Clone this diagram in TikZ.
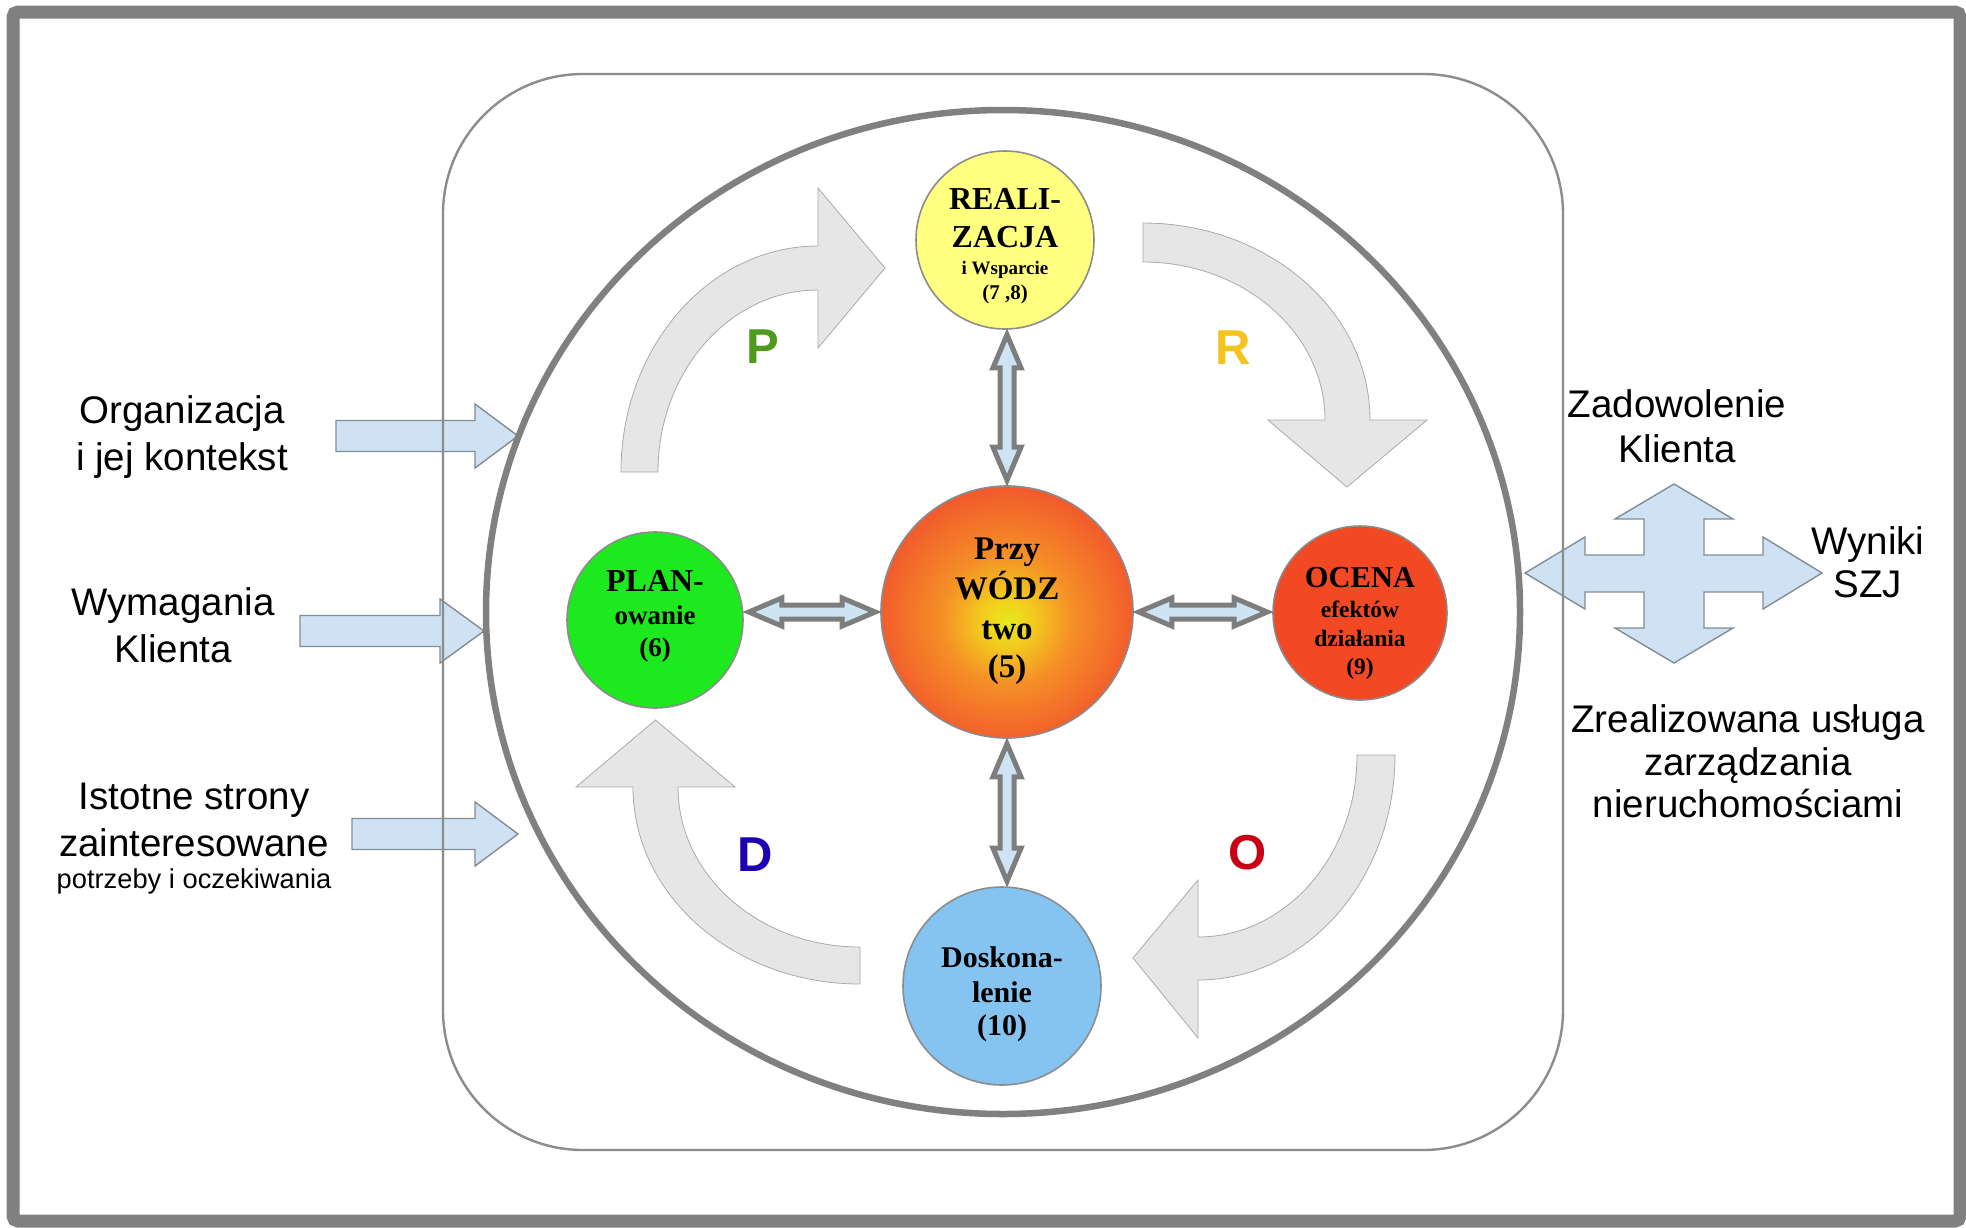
\documentclass[tikz,border=0pt]{standalone}
\usepackage{fontspec}
\setmainfont{Liberation Serif}
\newfontfamily\arial{Liberation Sans}
\usetikzlibrary{calc}
\definecolor{framegray}{RGB}{128,128,128}
\definecolor{ringgray}{RGB}{128,128,128}
\definecolor{rectgray}{RGB}{140,140,140}
\definecolor{cycfill}{RGB}{230,230,230}
\definecolor{cycdraw}{RGB}{170,170,170}
\definecolor{arrowblue}{RGB}{207,226,243}
\definecolor{inarrowdraw}{RGB}{130,140,150}
\definecolor{dblblue}{RGB}{205,228,244}
\definecolor{dblgray}{RGB}{125,125,125}
\definecolor{ballgray}{RGB}{140,140,140}
\definecolor{ycol}{RGB}{255,255,128}
\definecolor{gcol}{RGB}{30,232,30}
\definecolor{rcol}{RGB}{242,72,36}
\definecolor{bcol}{RGB}{133,196,240}
\definecolor{Pcol}{RGB}{78,154,30}
\definecolor{Rcol}{RGB}{245,195,30}
\definecolor{Ocol}{RGB}{200,0,22}
\definecolor{Dcol}{RGB}{30,0,180}
\pgfdeclareradialshading{orb}{\pgfpoint{0bp}{-2bp}}{rgb(0bp)=(0.90,0.92,0.10); rgb(5bp)=(0.95,0.80,0.12); rgb(13bp)=(0.96,0.56,0.15); rgb(24bp)=(0.95,0.38,0.17); rgb(34bp)=(0.94,0.22,0.20); rgb(50bp)=(0.94,0.22,0.20)}
\newcommand{\vdblarrow}[2]{\draw[dbl] let \p1=(#1.south), \p2=(#2.north), \p3=(cen.center) in
  (\x3,\y1-5pt) -- (\x3+14pt,\y1-38pt) -- (\x3+7pt,\y1-38pt) -- (\x3+7pt,\y2+38pt) -- (\x3+14pt,\y2+38pt) -- (\x3,\y2+5pt)
  -- (\x3-14pt,\y2+38pt) -- (\x3-7pt,\y2+38pt) -- (\x3-7pt,\y1-38pt) -- (\x3-14pt,\y1-38pt) -- cycle;}
\newcommand{\hdblarrow}[2]{\draw[dbl] let \p1=(#1.east), \p2=(#2.west), \p3=(cen.center) in
  (\x1+5pt,\y3) -- (\x1+38pt,\y3+14pt) -- (\x1+38pt,\y3+7pt) -- (\x2-38pt,\y3+7pt) -- (\x2-38pt,\y3+14pt) -- (\x2-5pt,\y3)
  -- (\x2-38pt,\y3-14pt) -- (\x2-38pt,\y3-7pt) -- (\x1+38pt,\y3-7pt) -- (\x1+38pt,\y3-14pt) -- cycle;}
\begin{document}
\begin{tikzpicture}[x=1pt,y=-1pt,
  ball/.style={circle, draw=ballgray, line width=1.6pt, inner sep=0pt},
  balltext/.style={align=center, inner sep=0pt},
  lbl/.style={align=center, inner sep=0pt, font=\arial\fontsize{38.5}{47}\selectfont},
  cyc/.style={fill=cycfill, draw=cycdraw, line width=0.8pt},
  letter/.style={inner sep=0pt, font=\arial\bfseries\fontsize{49}{49}\selectfont},
  inarrow/.style={fill=arrowblue, draw=inarrowdraw, line width=1.4pt, line join=miter},
  dbl/.style={fill=dblblue, draw=dblgray, line width=5pt, line join=miter}]
\useasboundingbox (0,0) rectangle (1966,1227);
\fill[white] (0,0) rectangle (1966,1227);
\draw[line width=13pt, draw=framegray, rounded corners=5pt] (13,12) rectangle (1960,1221);

% input arrows (left)
\draw[inarrow] (336,420.5) -- (475,420.5) -- (475,404) -- (518,436) -- (475,468) -- (475,451.5) -- (336,451.5) -- cycle;
\draw[inarrow] (300,615.5) -- (440,615.5) -- (440,599) -- (484,631) -- (440,663) -- (440,646.5) -- (300,646.5) -- cycle;
\draw[inarrow] (352,818.5) -- (475,818.5) -- (475,802) -- (518,834) -- (475,866) -- (475,849.5) -- (352,849.5) -- cycle;

% output cross arrow (right)
\draw[inarrow] (1674,484) -- (1733,519) -- (1704,519) -- (1704,555) -- (1763,555) -- (1763,537) -- (1822,573)
  -- (1763,609) -- (1763,592) -- (1704,592) -- (1704,628) -- (1733,628) -- (1674,663) -- (1615,628)
  -- (1644,628) -- (1644,592) -- (1585,592) -- (1585,609) -- (1525,573) -- (1585,537) -- (1585,555)
  -- (1644,555) -- (1644,519) -- (1615,519) -- cycle;

% labels
\node[lbl] (org) at (182,437) {Organizacja\\i jej kontekst};
\node[lbl] (wym) at (173,625.5) {Wymagania\\Klienta};
\node[lbl] (ist) at (194,838.5) {Istotne strony\\zainteresowane\\[-15pt]\fontsize{27.3}{47}\selectfont potrzeby i oczekiwania};
\node[lbl] (zad) at (1677,426.5) {Zadowolenie\\[-2pt]Klienta};
\node[lbl] (wyn) at (1868,562.5) {Wyniki\\[-4pt]SZJ};
\node[lbl] (zre) at (1748,761.5) {Zrealizowana usługa\\[-4.5pt]zarządzania\\[-4.5pt]nieruchomościami};

% system boundary
\draw[draw=rectgray, line width=2.4pt, rounded corners=140pt] (443,74) rectangle (1563,1150);
\draw[draw=ringgray, line width=6.5pt] (1003,612) ellipse [x radius=517, y radius=502];

% PDCA curved arrows
\draw[cyc] (621,472) arc[start angle=180, end angle=270, x radius=197, y radius=226] -- (818,188) -- (885,268) -- (818,348) -- (818,290) arc[start angle=270, end angle=180, x radius=160, y radius=182] -- cycle;
\draw[cyc] (1143,223) arc[start angle=270, end angle=360, x radius=227, y radius=197] -- (1427,420) -- (1347,487) -- (1268,420) -- (1325,420) arc[start angle=360, end angle=270, x radius=182, y radius=158] -- cycle;
\draw[cyc] (1395,755) arc[start angle=0, end angle=90, x radius=197, y radius=225] -- (1198,1038) -- (1133,958) -- (1198,880) -- (1198,937) arc[start angle=90, end angle=0, x radius=159, y radius=182] -- cycle;
\draw[cyc] (860,984) arc[start angle=90, end angle=180, x radius=227, y radius=197] -- (576,787) -- (655.5,720) -- (735,787) -- (678,787) arc[start angle=180, end angle=90, x radius=182, y radius=160] -- cycle;

% circles
\node[ball, fill=ycol, minimum size=178pt] (real) at (1005,240) {};
\node[ball, shading=orb, minimum size=252pt] (cen) at (1007,612) {};
\node[ball, fill=gcol, minimum size=176pt] (plan) at (655,620) {};
\node[ball, fill=rcol, minimum size=174pt] (ocena) at (1360,613) {};
\node[ball, fill=bcol, minimum size=198pt] (dosk) at (1002,986) {};

\node[balltext, font=\bfseries\fontsize{32}{25}\selectfont] (realT) at (1005,246)
  {REALI-\\[13pt]\fontsize{32}{25}\selectfont ZACJA\\[2pt]\fontsize{19}{25}\selectfont i Wsparcie\\\fontsize{21}{25}\selectfont (7 ,8)};
\node[balltext, font=\bfseries\fontsize{33}{40}\selectfont] (cenT) at (1007,611)
  {Przy\\WÓDZ\\two\\[-2pt](5)};
\node[balltext, font=\bfseries\fontsize{32}{32}\selectfont] (planT) at (655,616.5)
  {PLAN-\\[1pt]\fontsize{27}{32}\selectfont owanie\\\fontsize{27}{32}\selectfont (6)};
\node[balltext, font=\bfseries\fontsize{30.5}{28.5}\selectfont] (ocenaT) at (1360,623.5)
  {OCENA\\[1.5pt]\fontsize{23.5}{28.5}\selectfont efektów\\[0.5pt]\fontsize{23.5}{28.5}\selectfont działania\\\fontsize{23.5}{28.5}\selectfont (9)};
\node[balltext, font=\bfseries\fontsize{30}{34}\selectfont] (doskT) at (1002,994)
  {Doskona-\\[1pt]lenie\\[-1pt](10)};

% double arrows
\vdblarrow{real}{cen}
\vdblarrow{cen}{dosk}
\hdblarrow{plan}{cen}
\hdblarrow{cen}{ocena}

% letters
\node[letter, text=Pcol] (letP) at (763,347) {P};
\node[letter, text=Rcol] (letR) at (1233,348) {R};
\node[letter, text=Ocol] (letO) at (1248,853) {O};
\node[letter, text=Dcol] (letD) at (755,855) {D};
\end{tikzpicture}
\end{document}
